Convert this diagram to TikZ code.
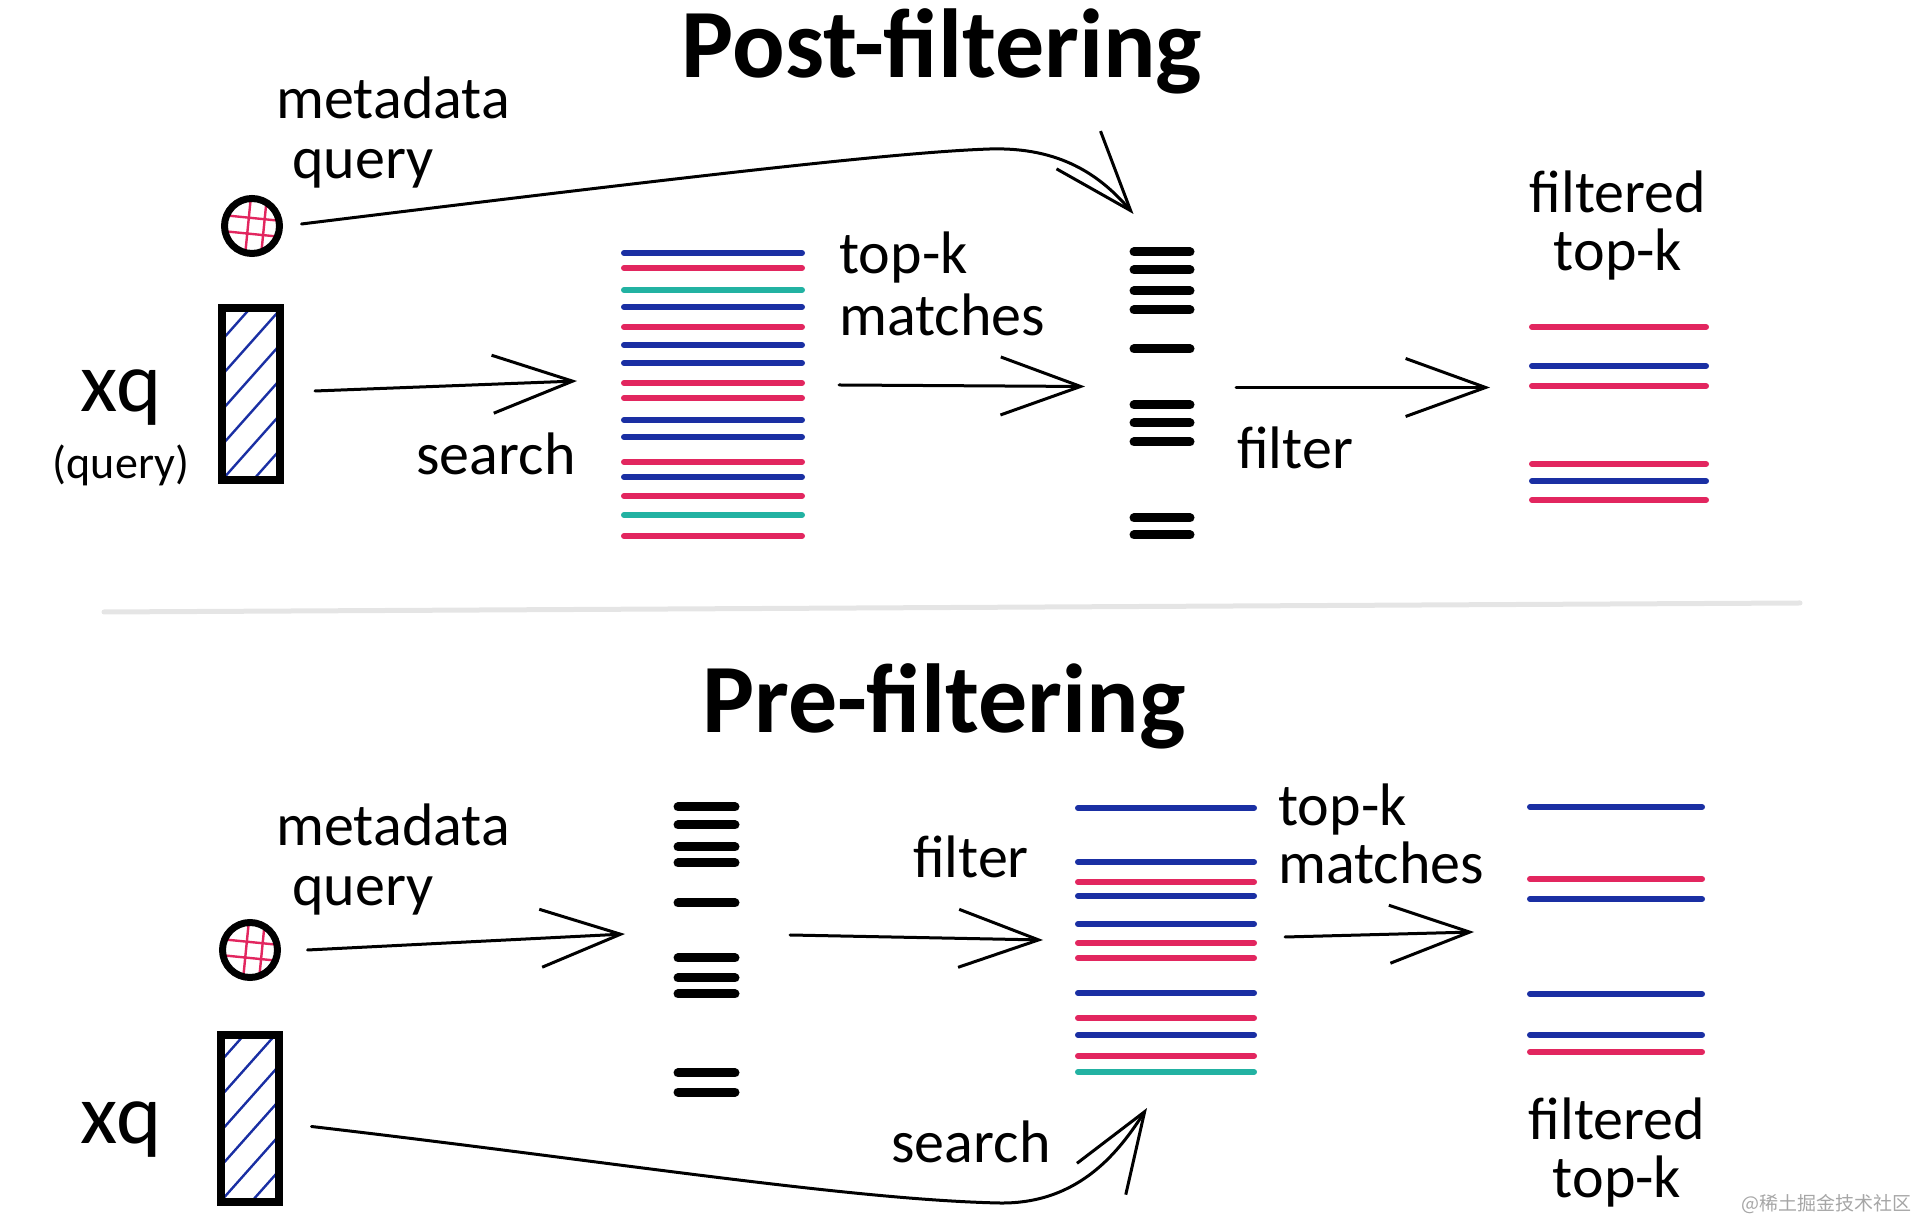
\documentclass[tikz,border=0pt]{standalone}
\usepackage{fontspec}
\setmainfont{Carlito}
\newfontfamily\cjkfont{Noto Sans CJK SC}
\usetikzlibrary{arrows.meta,calc}
\definecolor{vblue}{HTML}{1A2FA3}
\definecolor{vred}{HTML}{E2265F}
\definecolor{vteal}{HTML}{22B2A2}

\begin{document}
\begin{tikzpicture}[
x=0.5pt, y=0.5pt,
   lbl/.style = {inner sep=0pt, align=left,
                 font=\fontsize{30}{29}\selectfont},% handwritten labels
   ttl/.style = {inner sep=0pt, font=\bfseries\fontsize{49}{49}\selectfont},
   arr/.style = {line width=1.5pt, line cap=round, line join=round,
                 -{Straight Barb[length=40pt,width=29pt]}},
   bar/.style = {line width=3pt, line cap=round},% coloured vectors
  stub/.style = {line width=4.5pt, line cap=round},% black ids
  area/.style = {rectangle, inner sep=0pt, outer sep=0pt},% holders of the stacks
  qvec/.style = {rectangle, draw, line width=4pt, outer sep=0pt,
                 minimum width=29pt, minimum height=#1,
                 path picture={\foreach \k in {-3,...,6}
                   \draw[vblue,line width=1.2pt]
                   ([yshift=\k*17.5pt]path picture bounding box.south west)
                   -- ++(32pt,36pt);}},
  qdot/.style = {circle, draw, line width=3.5pt, outer sep=0pt,
                 minimum size=27.5pt,
                 path picture={\draw[vred,line width=1.2pt]
                   ($(path picture bounding box.center)+(-4pt,-20pt)$) -- ++(4pt,40pt)
                   ($(path picture bounding box.center)+(4pt,-20pt)$) -- ++(4pt,40pt)
                   ($(path picture bounding box.center)+(-20pt,6pt)$) -- ++(40pt,-4pt)
                   ($(path picture bounding box.center)+(-20pt,-2pt)$) -- ++(40pt,-4pt);}},
                        ]
\useasboundingbox (0,0) rectangle (1920,1220);

% post-filtering
\node[ttl, anchor=base] (post) at (942,1142) {Post-filtering};
\node[qdot] (dot1) at (252,994) {};
\node[qvec=86pt] (vec1) at (251,826) {};
\node[lbl, anchor=north west] (meta1) at (276,1144) {metadata\\[1pt]\hspace*{8pt}query};
\node[lbl, anchor=base, font=\fontsize{43}{43}\selectfont] (xq1) at (121,808) {xq};
\node[lbl, anchor=base, font=\fontsize{23}{23}\selectfont] (qry1) at (121,741) {(query)};
\node[lbl, anchor=base] (srch1) at (496,745) {search};
\node[lbl, anchor=north west] (topk1) at (839,989) {top-k\\[2pt]matches};
\node[lbl, anchor=base] (filt1) at (1295,751) {filter};
\node[lbl, anchor=north, align=center] (res1) at (1618,1050) {filtered\\top-k};

\node[area, minimum width=92.5pt, minimum height=145pt] (stk1) at (712.5,825) {};
\node[area, minimum width=31.5pt, minimum height=147.5pt] (ids1) at (1161.5,827.5) {};
\node[area, minimum width=92.5pt, minimum height=93.5pt] (fin1) at (1619.5,806.5) {};

\foreach \yy/\cc in {967/vblue,952/vred,930/vteal,913/vblue,893/vred,875/vblue,
                     857/vblue,837/vred,822/vred,800/vblue,783/vblue,758/vred,
                     743/vblue,724/vred,705/vteal,684/vred}
    \draw[bar, draw=\cc] (624,\yy) -- (802,\yy);
\foreach \yy in {968,950,929,910,871,815,797,778,702,685}
    \draw[stub] (1134,\yy) -- (1190,\yy);
\foreach \yy/\cc in {893/vred,854/vblue,834/vred,756/vred,739/vblue,720/vred}
    \draw[bar, draw=\cc] (1532,\yy) -- (1706,\yy);

\draw[arr] ($(vec1.east)+(35,3)$) -- ($(stk1.west)+(-43,14)$);
\draw[arr] ($(stk1.east)+(34,10)$) -- ($(ids1.west)+(-45,6)$);
\draw[arr] ($(ids1.east)+(43,5)$) -- ($(fin1.west)+(-37,26)$);
\draw[arr] ($(dot1.east)+(22,2)$) .. controls (700,1045) and (900,1068) .. (990,1071)
           .. controls (1060,1073) and (1100,1045) .. ($(ids1.north)+(-28,31)$);

\draw[line width=2.5pt, black!10, line cap=round] (104,608) -- (1800,617);

% pre-filtering
\node[ttl, anchor=base] (pre) at (944,487) {Pre-filtering};
\node[qdot] (dot2) at (250,270) {};
\node[qvec=83pt] (vec2) at (249.5,101.5) {};
\node[lbl, anchor=north west] (meta2) at (276,417) {metadata\\[1pt]\hspace*{8pt}query};
\node[lbl, anchor=base, font=\fontsize{43}{43}\selectfont] (xq2) at (121,77) {xq};
\node[lbl, anchor=base] (filt2) at (971,342) {filter};
\node[lbl, anchor=north west] (topk2) at (1278,437) {top-k\\matches};
\node[lbl, anchor=base] (srch2) at (971,58) {search};
\node[lbl, anchor=north, align=center] (res2) at (1617,123) {filtered\\top-k};
\node[anchor=east, inner sep=0pt, text=black!35,
      font=\cjkfont\fontsize{9.5}{10}\selectfont] (mark) at (1912,16) {@稀土掘金技术社区};

\node[area, minimum width=31.5pt, minimum height=150pt] (ids2) at (706.5,270) {};
\node[area, minimum width=91pt, minimum height=140pt] (stk2) at (1166,280) {};
\node[area, minimum width=89pt, minimum height=130pt] (fin2) at (1616,290) {};

\foreach \yy in {413,395,373,357,317,262,242,226,147,128}
    \draw[stub] (678,\yy) -- (735,\yy);
\foreach \yy/\cc in {412/vblue,358/vblue,338/vred,324/vblue,296/vblue,277/vred,
                     262/vred,227/vblue,202/vred,185/vblue,164/vred,148/vteal}
    \draw[bar, draw=\cc] (1078,\yy) -- (1254,\yy);
\foreach \yy/\cc in {413/vblue,341/vred,321/vblue,226/vblue,185/vblue,168/vred}
    \draw[bar, draw=\cc] (1530,\yy) -- (1702,\yy);

\draw[arr] ($(dot2.east)+(30,0)$) -- ($(ids2.west)+(-50,16)$);
\draw[arr] ($(ids2.east)+(52,15)$) -- ($(stk2.west)+(-32,0)$);
\draw[arr] ($(stk2.east)+(28,3)$) -- ($(fin2.west)+(-53,-2)$);
\draw[arr] ($(vec2.east)+(33,-8)$) .. controls (600,60) and (850,20) .. (1000,17)
           .. controls (1080,16) and (1120,70) .. ($(stk2.south)+(-19,-28)$);
\end{tikzpicture}
\end{document}
